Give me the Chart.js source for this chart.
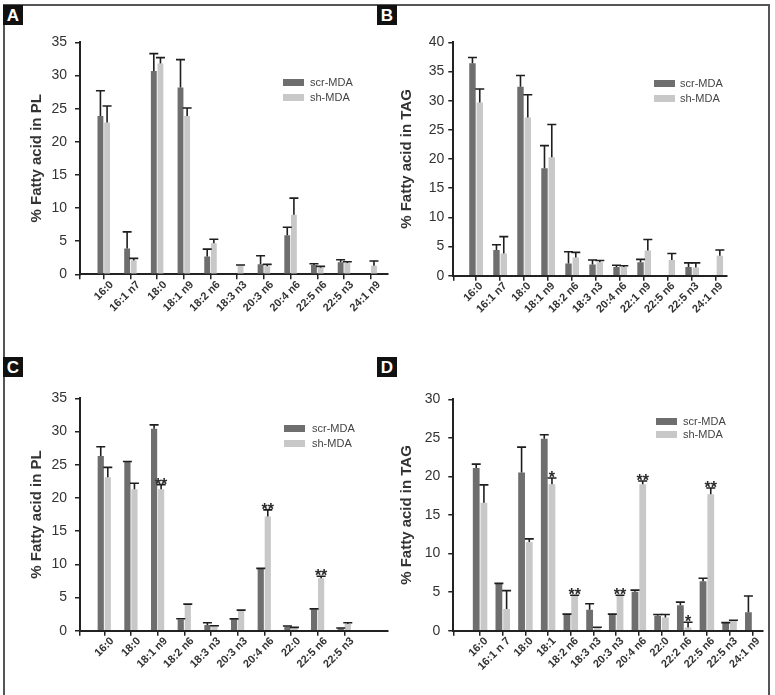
<!DOCTYPE html>
<html><head><meta charset="utf-8">
<script src="https://cdn.jsdelivr.net/npm/chart.js@4/dist/chart.umd.min.js"></script>
<style>
body{margin:0;background:#fff;width:775px;height:695px;overflow:hidden;position:relative;font-family:"Liberation Sans",Arial,sans-serif;}
#frame{position:absolute;left:3px;top:4px;width:767px;height:720px;border:2px solid #555;border-bottom:none;box-sizing:border-box;}
.lbl{position:absolute;width:20px;height:20px;background:#111;color:#fff;font-weight:bold;font-size:17px;line-height:21px;text-align:center;}
canvas{position:absolute;}
.leg{position:absolute;font-size:11px;color:#444;}
.leg .row{position:relative;height:15px;}
.leg .box{position:absolute;left:0;top:0;width:21px;height:6.5px;}
.leg .txt{position:absolute;top:-3.5px;white-space:nowrap;line-height:13px;}
</style></head>
<body>
<div id="frame"></div>
<canvas id="cA" width="385" height="320" style="left:5px;top:26px"></canvas>
<canvas id="cB" width="380" height="320" style="left:390px;top:26px"></canvas>
<canvas id="cC" width="385" height="320" style="left:5px;top:372px"></canvas>
<canvas id="cD" width="385" height="320" style="left:390px;top:372px"></canvas>
<div class="lbl" style="left:3px;top:5px">A</div>
<div class="lbl" style="left:377px;top:5px">B</div>
<div class="lbl" style="left:3px;top:357px">C</div>
<div class="lbl" style="left:377px;top:357px">D</div>
<div class="leg" id="legA" style="left:283px;top:79px"></div>
<div class="leg" id="legB" style="left:654px;top:80px"></div>
<div class="leg" id="legC" style="left:284px;top:425px"></div>
<div class="leg" id="legD" style="left:656px;top:418px"></div>
<script>
// ---------- data ----------
const seriesNames = ['scr-MDA', 'sh-MDA'];

const catsA = ['16:0','16:1 n7','18:0','18:1 n9','18:2 n6','18:3 n3','20:3 n6','20:4 n6','22:5 n6','22:5 n3','24:1 n9'];
const scrA = [23.9, 3.9, 30.7, 28.2, 2.7, 0, 1.5, 5.9, 1.4, 1.8, 0];
const scrErrA = [3.8, 2.5, 2.6, 4.2, 1.1, 0, 1.3, 1.2, 0.2, 0.4, 0];
const shA = [22.9, 2.1, 31.8, 23.9, 4.7, 1.3, 1.2, 9.0, 1.0, 1.7, 1.3];
const shErrA = [2.5, 0.3, 0.9, 1.2, 0.6, 0.1, 0.3, 2.5, 0.2, 0.2, 0.7];

const catsB = ['16:0','16:1 n7','18:0','18:1 n9','18:2 n6','18:3 n3','20:4 n6','22:1 n9','22:5 n6','22:5 n3','24:1 n9'];
const scrB = [36.4, 4.4, 32.4, 18.4, 2.1, 1.9, 1.5, 2.3, 0, 1.5, 0];
const scrErrB = [1.0, 0.9, 1.9, 3.9, 2.0, 0.8, 0.3, 0.5, 0, 0.7, 0];
const shB = [29.7, 3.8, 27.1, 20.3, 3.1, 2.3, 1.5, 4.3, 2.7, 1.4, 3.4];
const shErrB = [2.3, 2.9, 3.9, 5.6, 0.9, 0.3, 0.2, 1.9, 1.1, 0.8, 1.0];

const catsC = ['16:0','18:0','18:1 n9','18:2 n6','18:3 n3','20:3 n3','20:4 n6','22:0','22:5 n6','22:5 n3'];
const scrC = [26.3, 25.4, 30.4, 1.7, 0.85, 1.7, 9.3, 0.6, 3.2, 0.35];
const scrErrC = [1.4, 0.08, 0.6, 0.1, 0.35, 0.08, 0.08, 0.1, 0.08, 0.05];
const shC = [23.1, 21.3, 21.3, 3.9, 0.7, 3.0, 17.2, 0.45, 7.9, 1.0];
const shErrC = [1.5, 0.9, 0.7, 0.1, 0.05, 0.1, 1.0, 0.05, 0.3, 0.2];
const starsC = ['', '', '**', '', '', '', '**', '', '**', ''];

const catsD = ['16:0','16:1 n 7','18:0','18:1','18:2 n6','18:3 n3','20:3 n3','20:4 n6','22:0','22:2 n6','22:5 n6','22:5 n3','24:1 n9'];
const scrD = [21.1, 6.05, 20.5, 24.9, 2.1, 2.7, 2.1, 5.06, 1.95, 3.3, 6.4, 1.0, 2.4];
const scrErrD = [0.5, 0.08, 3.3, 0.5, 0.05, 0.8, 0.05, 0.2, 0.15, 0.4, 0.4, 0.05, 2.1];
const shD = [16.6, 2.8, 11.5, 19.0, 4.5, 0.4, 4.5, 19.0, 1.7, 0.4, 17.7, 1.25, 0];
const shErrD = [2.3, 2.4, 0.4, 0.8, 0.1, 0.05, 0.1, 0.4, 0.4, 0.7, 0.8, 0.1, 0];
const starsD = ['', '', '', '*', '**', '', '**', '**', '', '*', '**', '', ''];

// ---------- styles ----------
const COL_SCR = '#6e6e6e';
const COL_SH = '#c8c8c8';
const FONT = '"Liberation Sans", Arial, sans-serif';

const errPlugin = {
  id: 'errbars',
  afterDatasetsDraw(chart) {
    const ctx = chart.ctx, ys = chart.scales.y;
    chart.data.datasets.forEach((ds, di) => {
      const meta = chart.getDatasetMeta(di);
      meta.data.forEach((el, j) => {
        const v = ds.data[j].y, e = ds.errors[j];
        if (!(v > 0)) return;
        const y0 = ys.getPixelForValue(v), y1 = ys.getPixelForValue(v + e);
        ctx.save();
        ctx.strokeStyle = '#1e1e1e';
        ctx.lineWidth = 1.6;
        ctx.beginPath();
        ctx.moveTo(el.x, y0); ctx.lineTo(el.x, y1);
        ctx.moveTo(el.x - 4.5, y1); ctx.lineTo(el.x + 4.5, y1);
        ctx.stroke();
        if (ds.stars && ds.stars[j]) {
          ctx.fillStyle = '#2a2a2a';
          ctx.font = 'bold 16px ' + FONT;
          ctx.textAlign = 'center';
          ctx.textBaseline = 'alphabetic';
          ctx.fillText(ds.stars[j], el.x, y1 + 5);
        }
        ctx.restore();
      });
    });
  }
};

function makeChart(id, cats, scr, scrErr, sh, shErr, stars, g) {
  const pts = arr => arr.map((v, i) => ({x: i, y: v}));
  new Chart(document.getElementById(id), {
    type: 'bar',
    data: {
      datasets: [
        {label: seriesNames[0], data: pts(scr), errors: scrErr, backgroundColor: COL_SCR,
         categoryPercentage: g.cat, barPercentage: 0.88},
        {label: seriesNames[1], data: pts(sh), errors: shErr, stars: stars, backgroundColor: COL_SH,
         categoryPercentage: g.cat, barPercentage: 0.88}
      ]
    },
    options: {
      responsive: false, animation: false,
      layout: {padding: {left: 0, top: g.top, right: g.right, bottom: 0}},
      plugins: {legend: {display: false}, tooltip: {enabled: false}},
      scales: {
        x: {
          type: 'linear', min: g.xmin, max: g.xmax, offset: false, bounds: 'data',
          afterBuildTicks: s => { s.ticks = [{value: g.xmin}].concat(cats.map((c, i) => ({value: i}))); },
          afterFit: s => { s.height = g.xh; },
          grid: {display: true, drawOnChartArea: false, tickLength: 5, color: '#222', lineWidth: 1.5, offset: false},
          border: {color: '#222', width: 2},
          ticks: {autoSkip: false, minRotation: 45, maxRotation: 45, padding: -1, labelOffset: g.lo, color: '#333',
                  font: {family: FONT, size: 11, weight: 'bold'},
                  callback: v => Number.isInteger(v) && cats[v] !== undefined ? cats[v] : ''}
        },
        y: {
          min: 0, max: g.ymax,
          afterFit: s => { s.width = g.yw; },
          grid: {display: true, drawOnChartArea: false, tickLength: 5, color: '#222', lineWidth: 1.5},
          border: {color: '#222', width: 2},
          ticks: {stepSize: 5, padding: g.tp, color: '#333', font: {family: FONT, size: 14}},
          title: {display: true, text: g.title, color: '#333', padding: {top: g.titlePad, bottom: 0},
                  font: {family: FONT, size: 15, weight: 'bold'}}
        }
      }
    },
    plugins: [errPlugin]
  });
}

makeChart('cA', catsA, scrA, scrErrA, shA, shErrA, null,
  {cat: 0.56, top: 16.3, right: 2, xh: 71.7, yw: 75, xmin: -0.89, xmax: 10.65, ymax: 35, tp: 8, lo: 8,
   title: '% Fatty acid in PL', titlePad: 22.7});
makeChart('cB', catsB, scrB, scrErrB, shB, shErrB, null,
  {cat: 0.64, top: 16.3, right: 43, xh: 70.3, yw: 63.3, xmin: -0.95, xmax: 10.45, ymax: 40, tp: 4, lo: 5,
   title: '% Fatty acid in TAG', titlePad: 7.7});
makeChart('cC', catsC, scrC, scrErrC, shC, shErrC, starsC,
  {cat: 0.58, top: 26.3, right: 2, xh: 61.3, yw: 75, xmin: -0.91, xmax: 10.64, ymax: 35, tp: 8, lo: 8,
   title: '% Fatty acid in PL', titlePad: 22.7});
makeChart('cD', catsD, scrD, scrErrD, shD, shErrD, starsD,
  {cat: 0.68, top: 27.3, right: 12.3, xh: 61.3, yw: 63.3, xmin: -1.18, xmax: 12.46, ymax: 30, tp: 8, lo: 6,
   title: '% Fatty acid in TAG', titlePad: 7.7});

function legend(id, gap, rowH) {
  const el = document.getElementById(id);
  [COL_SCR, COL_SH].forEach((c, i) => {
    const row = document.createElement('div');
    row.className = 'row'; row.style.height = rowH + 'px';
    const b = document.createElement('div'); b.className = 'box'; b.style.background = c;
    const t = document.createElement('div'); t.className = 'txt'; t.style.left = (21 + gap) + 'px';
    t.textContent = seriesNames[i];
    row.appendChild(b); row.appendChild(t); el.appendChild(row);
  });
}
legend('legA', 6, 15);
legend('legB', 5, 15);
legend('legC', 7, 15.4);
legend('legD', 6, 13.3);
</script>
</body></html>
